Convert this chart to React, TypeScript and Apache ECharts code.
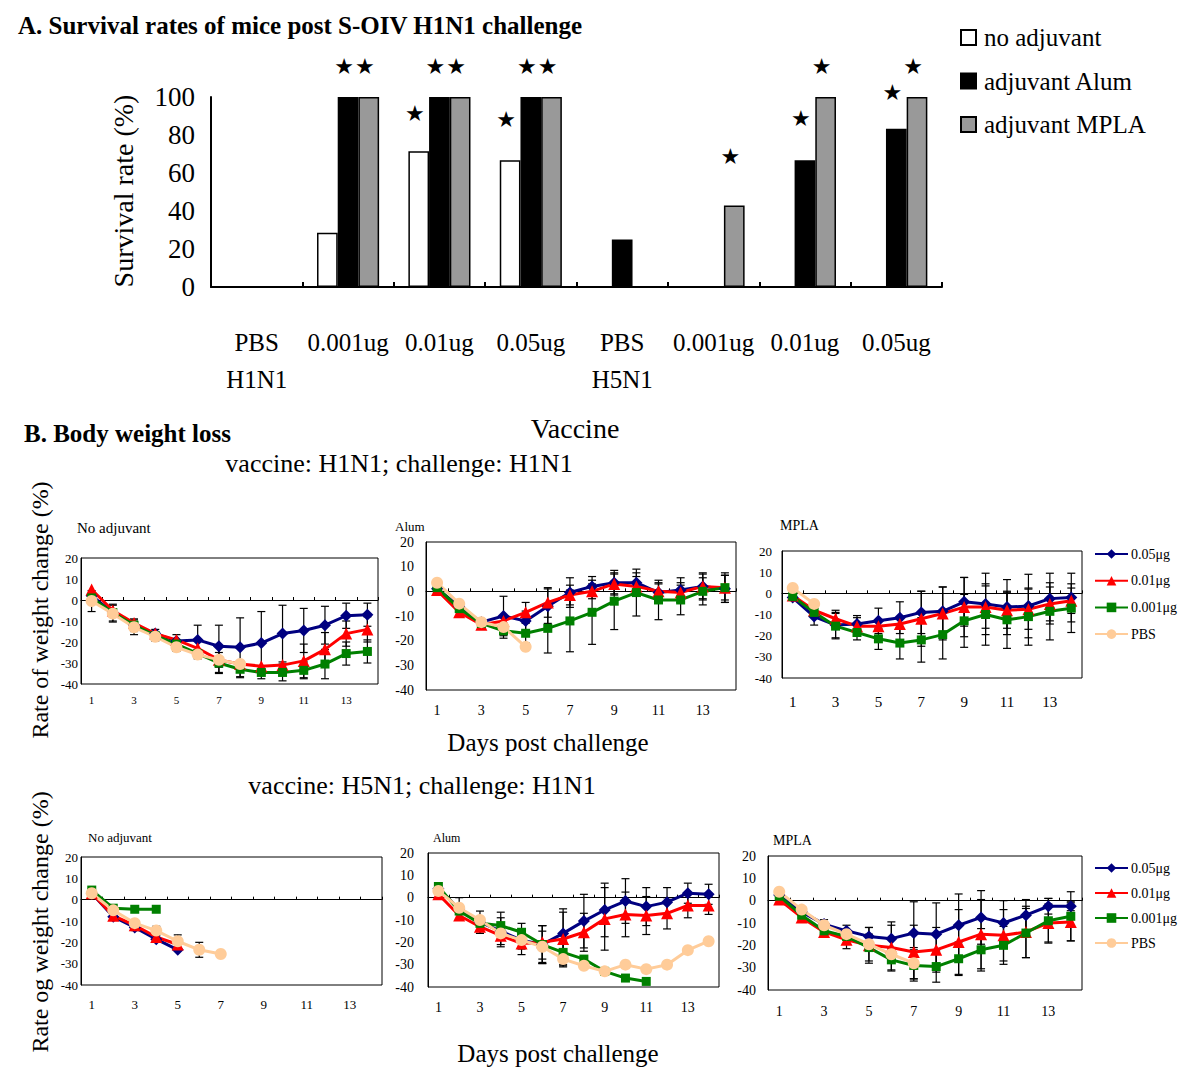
import React, { useEffect, useRef } from 'react';
import * as echarts from 'echarts';

// ---------- Panel A data ----------
const vaccineCats = ['PBS\nH1N1', '0.001ug', '0.01ug', '0.05ug', 'PBS\nH5N1', '0.001ug', '0.01ug', '0.05ug'];
const noAdjuvant = [0, 28.6, 71.4, 66.7, 0, 0, 0, 0];
const adjAlum = [0, 100, 100, 100, 25, 0, 66.7, 83.3];
const adjMPLA = [0, 100, 100, 100, 0, 42.9, 100, 100];
const noAdjStar = [0, 0, 1, 1, 0, 0, 0, 0];
const alumStar = [0, 1, 1, 1, 0, 0, 1, 1];
const mplaStar = [0, 1, 1, 1, 0, 1, 1, 1];
const survivalTicks = [0, 20, 40, 60, 80, 100];

// ---------- Panel B data ----------
const days = ['1', '2', '3', '4', '5', '6', '7', '8', '9', '10', '11', '12', '13', '14'];
const doseNames = ['0.05μg', '0.01μg', '0.001μg', 'PBS'];
const _ = null;

// vaccine H1N1, No adjuvant
const h1NoAdj005 = [2, -6, -12, -16, -19.5, -19, -22, -22.5, -20.5, -16, -14.5, -12, -7.5, -7];
const h1NoAdj005Err = [_, 4, 3, 2, 3, 7, 10, 14, 15, 13.5, 10.5, 9, 6, 5.5];
const h1NoAdj001 = [5, -5, -11, -16, -19, -23, -28.5, -30.5, -31.5, -31, -29, -23.5, -16, -14];
const h1NoAdj001Err = [_, _, _, _, _, _, _, _, _, _, 8, 8, 6, 6];
const h1NoAdj0001 = [1, -6, -12, -17, -21, -25.5, -30, -33, -34.5, -34.5, -33.5, -30.5, -25.5, -24.5];
const h1NoAdj0001Err = [_, _, _, _, _, _, 5, 4, 3, 4, 4, 7, 5.5, 5.5];
const h1NoAdjPBS = [-0.5, -6.5, -13, -17.5, -22.5, -26, -28.5, -30.5, _, _, _, _, _, _];
const h1NoAdjPBSErr = [5, 4, 3.5, 2, 2, 2, 6, _, _, _, _, _, _, _];

// vaccine H1N1, Alum
const h1Alum005 = [1, -6, -12.5, -10, -12, -6, -0.5, 2, 3.5, 3.5, -0.5, 0.5, 2, 1];
const h1Alum005Err = [_, _, _, 8, 4, 7, 6, 4, 5, 4, 4, 5, 5.5, 5.5];
const h1Alum001 = [0.5, -8.5, -13.5, -12, -8.5, -4.5, -1.5, 0, 3, 2, 0, -0.5, 2, 1.5];
const h1Alum001Err = [_, _, _, _, 4, 6, 4, 3, 4, 4, 3, 4, 5, 5];
const h1Alum0001 = [1.5, -7, -13, -16, -17, -15, -12, -8.5, -4, -0.5, -3.5, -3.5, 0, 1.5];
const h1Alum0001Err = [2, _, _, 3, 4, 10, 12.5, 13, 11.5, 9.5, 8, 6, 5.5, 6];
const h1AlumPBS = [3.5, -5, -12.5, -14.5, -22.5, _, _, _, _, _, _, _, _, _];
const h1AlumPBSErr = [_, _, _, _, _, _, _, _, _, _, _, _, _, _];

// vaccine H1N1, MPLA
const h1Mpla005 = [-2, -11, -15, -14.5, -13, -11.5, -9, -8.5, -4, -5, -6.5, -6, -2.5, -2];
const h1Mpla005Err = [_, 4, 6, 4, 6, 7.5, 10, 11.5, 11.5, 14.5, 13, 15, 12, 11.5];
const h1Mpla001 = [-1, -8, -12, -15.5, -15.5, -14.5, -12, -9.5, -6.5, -6.5, -8, -7.5, -5, -3.5];
const h1Mpla001Err = [_, _, 4, 4, _, _, 13, 12.5, 14, 10, 8.5, 9.5, 8, 6];
const h1Mpla0001 = [-1.5, -9, -15.5, -18.5, -21.5, -23.5, -22, -19.5, -13, -10, -12.5, -11, -8.5, -7];
const h1Mpla0001Err = [_, _, 6, 3.5, 5, 7.5, 10.5, 11.5, 12.5, 14.5, 13.5, 13.5, 13.5, 11.5];
const h1MplaPBS = [2.5, -5, _, _, _, _, _, _, _, _, _, _, _, _];
const h1MplaPBSErr = [_, _, _, _, _, _, _, _, _, _, _, _, _, _];

// vaccine H5N1, No adjuvant
const h5NoAdj005 = [3, -8, -13, -18.5, -23.5, _, _, _, _, _, _, _, _, _];
const h5NoAdj005Err = [_, _, 1.5, 1.5, _, _, _, _, _, _, _, _, _, _];
const h5NoAdj001 = [3, -7.5, -12, -17.5, -21, _, _, _, _, _, _, _, _, _];
const h5NoAdj001Err = [_, _, _, _, _, _, _, _, _, _, _, _, _, _];
const h5NoAdj0001 = [4.5, -4, -4.5, -4.5, _, _, _, _, _, _, _, _, _, _];
const h5NoAdj0001Err = [_, _, _, _, _, _, _, _, _, _, _, _, _, _];
const h5NoAdjPBS = [3, -5, -11, -14.5, -19.5, -23.5, -25.5, _, _, _, _, _, _, _];
const h5NoAdjPBSErr = [_, _, _, 2, 3, 3.5, 1, _, _, _, _, _, _, _];

// vaccine H5N1, Alum
const h5Alum005 = [4, -5, -11, -15, -19, -21, -16, -10.5, -5.5, -1.5, -4, -2, 2, 1.5];
const h5Alum005Err = [_, 5, 5, 6, 4, 8.5, 11, 12, 12, 10, 8.5, 6.5, 4.5, 4.5];
const h5Alum001 = [1.5, -8, -13, -17, -20.5, -20, -18.5, -15.5, -9.5, -7.5, -8, -7, -3.5, -3.5];
const h5Alum001Err = [_, _, 3, 5, 5, 7.5, 12, 8.5, 14, 10, 8.5, 7, 5.5, 4];
const h5Alum0001 = [5, -6, -11.5, -12.5, -15.5, -21, -24.5, -27.5, -33, -36, -37.5, _, _, _];
const h5Alum0001Err = [_, _, _, 6, 4, 8.5, 5.5, _, _, _, _, _, _, _];
const h5AlumPBS = [3, -4.5, -10, -16, -19, -22, -27.5, -30.5, -33, -30, -32, -30, -23.5, -19.5];
const h5AlumPBSErr = [_, _, _, _, 3.5, 7, 3.5, _, _, _, _, _, _, _];

// vaccine H5N1, MPLA
const h5Mpla005 = [2.5, -5, -10.5, -13.5, -16, -17, -14.5, -15, -11, -7.5, -10, -6.5, -2.5, -2.5];
const h5Mpla005Err = [_, _, 2, 2.5, 4, 7.5, 14, 14, 14, 12, 10, 7, 3.5, 2];
const h5Mpla001 = [0.5, -7.5, -14, -17.5, -20, -21, -23, -22, -18.5, -15, -15.5, -14, -10, -9.5];
const h5Mpla001Err = [_, _, _, 4, 8, 10, 12, 10, 14.5, 15.5, 11.5, 11.5, 8.5, 8.5];
const h5Mpla0001 = [2, -6.5, -13.5, -16, -21, -26.5, -29, -29.5, -26, -22, -20, -14.5, -9, -7];
const h5Mpla0001Err = [_, _, _, _, 6, 5, 7, 7, 7.5, 9.5, 8.5, 11, 10, 11];
const h5MplaPBS = [4, -4, -11, -15, -19.5, -24, -28, _, _, _, _, _, _, _];
const h5MplaPBSErr = [_, _, _, _, _, _, 7, _, _, _, _, _, _, _];

const weightTicks = [-40, -30, -20, -10, 0, 10, 20];

const FONT = '"Liberation Serif", "Times New Roman", serif';
const SERIES_STYLE = [
  { color: '#000080', symbol: 'diamond', size: 12 },
  { color: '#ff0000', symbol: 'triangle', size: 12 },
  { color: '#008000', symbol: 'rect', size: 9 },
  { color: '#ffcc99', symbol: 'circle', size: 12 },
];

const panelSets = [
  [[h1NoAdj005, h1NoAdj005Err], [h1NoAdj001, h1NoAdj001Err], [h1NoAdj0001, h1NoAdj0001Err], [h1NoAdjPBS, h1NoAdjPBSErr]],
  [[h1Alum005, h1Alum005Err], [h1Alum001, h1Alum001Err], [h1Alum0001, h1Alum0001Err], [h1AlumPBS, h1AlumPBSErr]],
  [[h1Mpla005, h1Mpla005Err], [h1Mpla001, h1Mpla001Err], [h1Mpla0001, h1Mpla0001Err], [h1MplaPBS, h1MplaPBSErr]],
  [[h5NoAdj005, h5NoAdj005Err], [h5NoAdj001, h5NoAdj001Err], [h5NoAdj0001, h5NoAdj0001Err], [h5NoAdjPBS, h5NoAdjPBSErr]],
  [[h5Alum005, h5Alum005Err], [h5Alum001, h5Alum001Err], [h5Alum0001, h5Alum0001Err], [h5AlumPBS, h5AlumPBSErr]],
  [[h5Mpla005, h5Mpla005Err], [h5Mpla001, h5Mpla001Err], [h5Mpla0001, h5Mpla0001Err], [h5MplaPBS, h5MplaPBSErr]],
];

// layout of the six small panels (positions/styles only)
const panelLayout = [
  { left: 81, top: 558, width: 297, height: 126, title: 'No adjuvant', tx: 77, ty: 528, tf: 15, xf: 11, xm: 10, yf: 13, ym: 3 },
  { left: 426, top: 542, width: 310, height: 148, title: 'Alum', tx: 395, ty: 526, tf: 13, xf: 14, xm: 13, yf: 14, ym: 12 },
  { left: 782, top: 551, width: 300, height: 127, title: 'MPLA', tx: 780, ty: 525, tf: 14, xf: 15, xm: 16, yf: 13, ym: 10 },
  { left: 81, top: 857, width: 301, height: 128, title: 'No adjuvant', tx: 88, ty: 837, tf: 13, xf: 13, xm: 13, yf: 13, ym: 3 },
  { left: 428, top: 853, width: 291, height: 134, title: 'Alum', tx: 433, ty: 838, tf: 12, xf: 14, xm: 13, yf: 14, ym: 14 },
  { left: 768, top: 856, width: 314, height: 134, title: 'MPLA', tx: 773, ty: 840, tf: 14, xf: 14, xm: 14, yf: 14, ym: 12 },
];

function errorBarSeries(k: number, mean: (number | null)[], err: (number | null)[]) {
  const data: number[][] = [];
  mean.forEach((m, i) => {
    const e = err[i];
    if (m != null && e != null) data.push([i, m - e, m + e]);
  });
  return {
    type: 'custom',
    xAxisIndex: k,
    yAxisIndex: k,
    z: 2,
    silent: true,
    encode: { x: 0, y: [1, 2] },
    data,
    renderItem: (params: any, api: any) => {
      const x = api.value(0);
      const lo = api.coord([x, api.value(1)]);
      const hi = api.coord([x, api.value(2)]);
      const hw = 4;
      const st = { stroke: '#000', lineWidth: 1.2 };
      return {
        type: 'group',
        children: [
          { type: 'line', shape: { x1: lo[0], y1: lo[1], x2: hi[0], y2: hi[1] }, style: st },
          { type: 'line', shape: { x1: lo[0] - hw, y1: lo[1], x2: lo[0] + hw, y2: lo[1] }, style: st },
          { type: 'line', shape: { x1: hi[0] - hw, y1: hi[1], x2: hi[0] + hw, y2: hi[1] }, style: st },
        ],
      };
    },
  };
}

function buildOption() {
  const grids: any[] = [{ left: 211, top: 97, width: 731, height: 190 }];
  const xAxes: any[] = [
    {
      type: 'category',
      gridIndex: 0,
      data: vaccineCats,
      axisLine: { lineStyle: { color: '#000', width: 2 } },
      axisTick: { show: true, inside: true, length: 5, lineStyle: { color: '#000', width: 2 } },
      axisLabel: { color: '#000', fontFamily: FONT, fontSize: 25, lineHeight: 37, margin: 37, interval: 0 },
    },
  ];
  const yAxes: any[] = [
    {
      type: 'value',
      gridIndex: 0,
      min: survivalTicks[0],
      max: survivalTicks[survivalTicks.length - 1],
      interval: 20,
      axisLine: { show: true, lineStyle: { color: '#000', width: 2 } },
      axisTick: { show: false },
      splitLine: { show: false },
      axisLabel: { color: '#000', fontFamily: FONT, fontSize: 27, margin: 16 },
    },
  ];

  const starGapNo = [0, 0, 27, 30, 0, 0, 0, 0];
  const starGapAlum = [0, 20, 20, 20, 0, 0, 31, 25];
  const starGapMpla = [0, 20, 20, 20, 0, 38, 20, 20];
  const mkBar = (vals: number[], stars: number[], gaps: number[]) =>
    vals.map((v, i) => ({ value: v, label: { show: !!stars[i], distance: gaps[i] } }));
  const starLabel = {
    position: 'top',
    formatter: '★',
    color: '#000',
    fontSize: 22,
    fontFamily: '"DejaVu Sans", sans-serif',
    offset: [-4, 0],
  };
  const barCommon = {
    type: 'bar',
    xAxisIndex: 0,
    yAxisIndex: 0,
    barWidth: 20.7,
    barGap: '0%',
    label: starLabel,
  };
  const series: any[] = [
    { ...barCommon, name: 'no adjuvant', itemStyle: { color: '#ffffff', borderColor: '#000', borderWidth: 1.5 }, data: mkBar(noAdjuvant, noAdjStar, starGapNo) },
    { ...barCommon, name: 'adjuvant Alum', itemStyle: { color: '#000000', borderColor: '#000', borderWidth: 1.5 }, data: mkBar(adjAlum, alumStar, starGapAlum) },
    { ...barCommon, name: 'adjuvant MPLA', itemStyle: { color: '#999999', borderColor: '#000', borderWidth: 1.5 }, data: mkBar(adjMPLA, mplaStar, starGapMpla) },
  ];

  const graphics: any[] = [];
  const txt = (x: number, y: number, text: string, font: string, align = 'left', rot = 0) => ({
    type: 'text',
    x,
    y,
    rotation: rot,
    silent: true,
    style: { text, font, fill: '#000', textAlign: align, textVerticalAlign: 'middle' },
  });

  panelLayout.forEach((p, idx) => {
    const k = idx + 1;
    grids.push({ left: p.left, top: p.top, width: p.width, height: p.height, show: true, borderColor: '#000', borderWidth: 1, backgroundColor: 'transparent' });
    xAxes.push({
      type: 'category',
      gridIndex: k,
      data: days,
      boundaryGap: true,
      axisLine: { lineStyle: { color: '#000', width: 1 } },
      axisTick: { show: true, inside: true, length: 3, interval: 0, lineStyle: { color: '#000' } },
      axisLabel: { interval: 1, color: '#000', fontFamily: FONT, fontSize: p.xf, margin: p.xm },
    });
    yAxes.push({
      type: 'value',
      gridIndex: k,
      min: weightTicks[0],
      max: weightTicks[weightTicks.length - 1],
      interval: 10,
      axisLine: { show: true, lineStyle: { color: '#000', width: 1 } },
      axisTick: { show: false },
      splitLine: { show: false },
      axisLabel: { color: '#000', fontFamily: FONT, fontSize: p.yf, margin: p.ym },
    });
    panelSets[idx].forEach(([mean, err]) => {
      series.push(errorBarSeries(k, mean as any, err as any));
    });
    panelSets[idx].forEach(([mean], s) => {
      const st = SERIES_STYLE[s];
      series.push({
        type: 'line',
        name: doseNames[s],
        xAxisIndex: k,
        yAxisIndex: k,
        data: mean,
        z: 3,
        symbol: st.symbol,
        symbolSize: st.size,
        showAllSymbol: true,
        connectNulls: false,
        itemStyle: { color: st.color },
        lineStyle: { color: st.color, width: 3 },
      });
    });
    graphics.push(txt(p.tx, p.ty, p.title, `${p.tf}px ${FONT}`));
  });

  graphics.push(txt(18, 25, 'A. Survival rates of mice post S-OIV H1N1 challenge', `bold 25px ${FONT}`));
  graphics.push(txt(123, 191, 'Survival rate (%)', `28px ${FONT}`, 'center', Math.PI / 2));
  graphics.push(txt(575, 428, 'Vaccine', `28px ${FONT}`, 'center'));
  graphics.push(txt(24, 433, 'B. Body weight loss', `bold 25px ${FONT}`));
  graphics.push(txt(399, 463, 'vaccine: H1N1; challenge: H1N1', `26px ${FONT}`, 'center'));
  graphics.push(txt(40, 610, 'Rate of weight change (%)', `24px ${FONT}`, 'center', Math.PI / 2));
  graphics.push(txt(548, 742, 'Days post challenge', `25px ${FONT}`, 'center'));
  graphics.push(txt(422, 785, 'vaccine: H5N1; challenge: H1N1', `26px ${FONT}`, 'center'));
  graphics.push(txt(40, 922, 'Rate og weight change (%)', `24px ${FONT}`, 'center', Math.PI / 2));
  graphics.push(txt(558, 1053, 'Days post challenge', `25px ${FONT}`, 'center'));

  const lineLegend = (top: number, gap: number) => ({
    data: doseNames,
    orient: 'vertical',
    left: 1094,
    top,
    padding: 0,
    itemWidth: 33,
    itemHeight: 12,
    itemGap: gap,
    selectedMode: false,
    textStyle: { color: '#000', fontFamily: FONT, fontSize: 14, padding: [0, 0, 0, -2] },
  });

  return {
    animation: false,
    backgroundColor: '#ffffff',
    grid: grids,
    xAxis: xAxes,
    yAxis: yAxes,
    legend: [
      {
        data: ['no adjuvant', 'adjuvant Alum', 'adjuvant MPLA'],
        orient: 'vertical',
        left: 960,
        top: 25,
        padding: 0,
        icon: 'rect',
        itemWidth: 15,
        itemHeight: 15,
        itemGap: 18.5,
        selectedMode: false,
        textStyle: { color: '#000', fontFamily: FONT, fontSize: 25, padding: [0, 0, 0, 3] },
      },
      lineLegend(547, 12.7),
      lineLegend(861, 11),
    ],
    graphic: graphics,
    series,
  };
}

export default function App() {
  const ref = useRef<HTMLDivElement>(null);
  useEffect(() => {
    if (!ref.current) return;
    const chart = echarts.init(ref.current, undefined, { renderer: 'svg' });
    chart.setOption(buildOption() as any);
    return () => chart.dispose();
  }, []);
  return (
    <div
      ref={ref}
      style={{ position: 'absolute', left: 0, top: 0, width: 1200, height: 1080, background: '#fff' }}
    />
  );
}
